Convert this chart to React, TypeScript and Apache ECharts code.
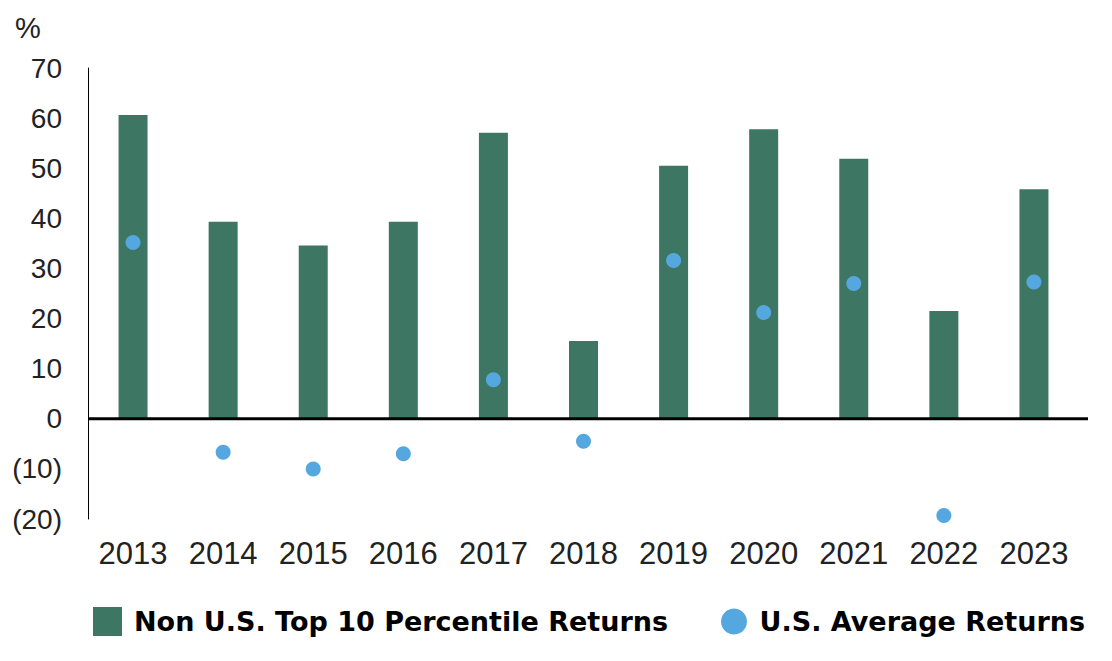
import React, { useEffect, useRef } from "react";
import * as echarts from "echarts";

const categories = ["2013", "2014", "2015", "2016", "2017", "2018", "2019", "2020", "2021", "2022", "2023"];
const nonUSTop10 = [60.6, 39.3, 34.6, 39.3, 57.1, 15.5, 50.5, 57.8, 51.9, 21.5, 45.8];
const usAverage = [35.2, -6.7, -10.0, -7.0, 7.8, -4.5, 31.6, 21.2, 27.0, -19.3, 27.3];
const barName = "Non U.S. Top 10 Percentile Returns";
const dotName = "U.S. Average Returns";

export default function App() {
  const ref = useRef<HTMLDivElement>(null);
  useEffect(() => {
    if (!ref.current) return;
    const chart = echarts.init(ref.current, null, { renderer: "svg" });
    const legendText = { fontFamily: "DejaVu Sans", fontWeight: "bold", fontSize: 27, color: "#000", padding: [0, 0, 0, 7] };
    chart.setOption({
      animation: false,
      backgroundColor: "#ffffff",
      title: {
        text: "%",
        left: 10,
        top: 8,
        textStyle: { fontFamily: "Liberation Sans", fontSize: 29, fontWeight: "normal", color: "#222" },
      },
      grid: { left: 88, right: 33, top: 68, bottom: 142 },
      legend: [
        {
          left: 88,
          top: 602,
          itemWidth: 29,
          itemHeight: 29,
          textStyle: legendText,
          data: [{ name: barName, icon: "rect" }],
        },
        {
          left: 716,
          top: 603,
          itemWidth: 27,
          itemHeight: 26,
          textStyle: legendText,
          data: [{ name: dotName, icon: "circle" }],
        },
      ],
      xAxis: {
        type: "category",
        data: categories,
        axisLine: { show: false, onZero: false },
        axisTick: { show: false },
        axisLabel: { fontFamily: "Liberation Sans", fontSize: 31, color: "#222", margin: 19 },
      },
      yAxis: {
        type: "value",
        min: -20,
        max: 70,
        interval: 10,
        axisLine: { show: true, lineStyle: { color: "#000", width: 1 } },
        axisTick: { show: false },
        splitLine: { show: false },
        axisLabel: {
          fontFamily: "Liberation Sans",
          fontSize: 28,
          color: "#222",
          margin: 26,
          formatter: (v: number) => (v < 0 ? `(${-v})` : `${v}`),
        },
      },
      series: [
        {
          name: barName,
          type: "bar",
          data: nonUSTop10,
          barWidth: 29,
          itemStyle: { color: "#3D7763" },
          z: 2,
        },
        {
          name: dotName,
          type: "scatter",
          data: usAverage,
          symbol: "circle",
          symbolSize: 15,
          itemStyle: { color: "#55A7DF", opacity: 1 },
          z: 4,
        },
      ],
    });
    const y0 = chart.convertToPixel({ yAxisIndex: 0 }, 0) as number;
    chart.setOption({
      graphic: [
        {
          type: "line",
          shape: { x1: 88, y1: y0, x2: 1088, y2: y0 },
          style: { stroke: "#000", lineWidth: 3 },
          z: 3,
        },
      ],
    });
    return () => chart.dispose();
  }, []);
  return <div ref={ref} style={{ width: 1112, height: 661, margin: -8 }} />;
}
